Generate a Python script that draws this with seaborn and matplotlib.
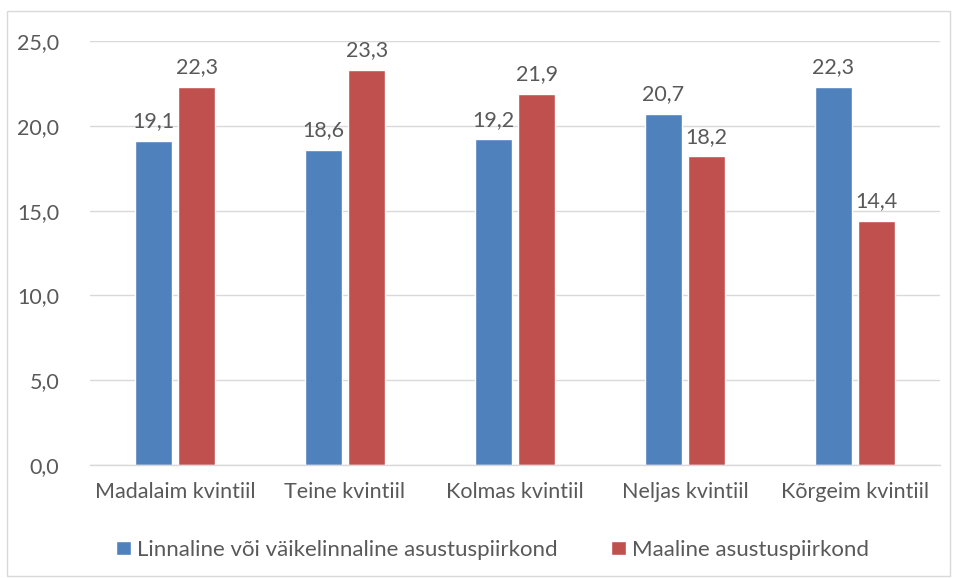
import numpy as np
import pandas as pd
import matplotlib
matplotlib.use("Agg")
import matplotlib.pyplot as plt
from matplotlib.patches import Rectangle
import seaborn as sns

CATEGORIES = ["Madalaim kvintiil", "Teine kvintiil", "Kolmas kvintiil",
              "Neljas kvintiil", "Kõrgeim kvintiil"]
SERIES = ["Linnaline või väikelinnaline asustuspiirkond", "Maaline asustuspiirkond"]
URBAN = [19.1, 18.6, 19.2, 20.7, 22.3]
RURAL = [22.3, 23.3, 21.9, 18.2, 14.4]
Y_TICKS = [0, 5, 10, 15, 20, 25]

COLORS = ["#4F81BD", "#C0504D"]
TEXT = "#595959"
GRID = "#D9D9D9"
FS = 15.5

sns.set_style("white")
plt.rcParams["font.family"] = ["Lato", "DejaVu Sans"]

df = pd.DataFrame({
    "kategooria": CATEGORIES * 2,
    "seeria": [SERIES[0]] * len(CATEGORIES) + [SERIES[1]] * len(CATEGORIES),
    "väärtus": URBAN + RURAL,
})

fig = plt.figure(figsize=(9.57, 5.78), dpi=100)
ax = fig.add_axes([90 / 957, 1 - 465 / 578, 850 / 957, 424 / 578])

sns.barplot(data=df, x="kategooria", y="väärtus", hue="seeria",
            palette=COLORS, width=0.51, gap=0.14, ax=ax,
            saturation=1, errorbar=None, legend=True)

def fmt(v):
    return f"{v:.1f}".replace(".", ",")

for cont in ax.containers:
    ax.bar_label(cont, labels=[fmt(v) for v in cont.datavalues],
                 padding=7, fontsize=FS, color=TEXT)

ax.set_ylim(0, 25)
ax.set_xlim(-0.5, len(CATEGORIES) - 0.5)
ax.set_yticks(Y_TICKS)
ax.set_yticklabels([fmt(t) for t in Y_TICKS])
ax.yaxis.grid(True, color=GRID, linewidth=1)
ax.set_axisbelow(True)
for side in ["top", "right", "left"]:
    ax.spines[side].set_visible(False)
ax.spines["bottom"].set_color(GRID)
ax.spines["bottom"].set_linewidth(1)
ax.tick_params(axis="both", length=0, labelsize=FS, labelcolor=TEXT)
ax.tick_params(axis="y", pad=22)
ax.tick_params(axis="x", pad=12)
ax.set_xlabel("")
ax.set_ylabel("")

handles, labels = ax.get_legend_handles_labels()
ax.legend(handles, labels, loc="center", bbox_to_anchor=(0.474, -0.2),
          ncol=2, frameon=False, fontsize=16, labelcolor=TEXT,
          handlelength=0.65, handleheight=0.65, handletextpad=0.3,
          columnspacing=2.4)

fig.patches.append(Rectangle((7 / 957, 2 / 578), 943 / 957, 565 / 578,
                             transform=fig.transFigure, fill=False,
                             edgecolor=GRID, linewidth=1))

fig.savefig("out.png", dpi=100)
